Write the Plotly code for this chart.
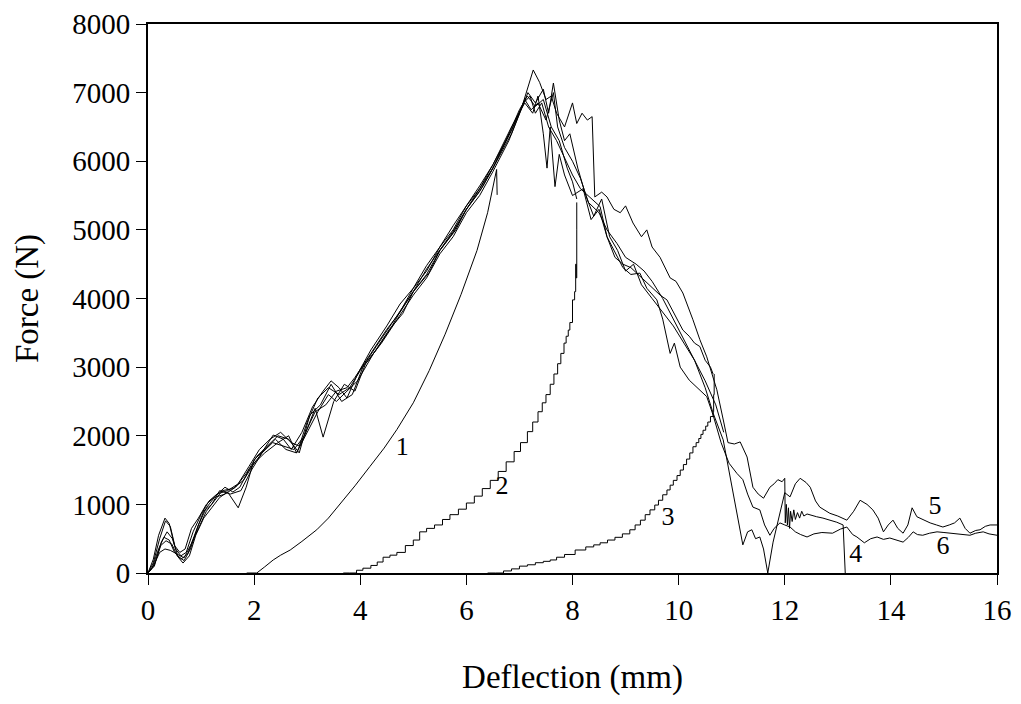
import plotly.graph_objects as go

# ---- main load-deflection curves (x in mm, F in N) ----
xa = [0, 0.1, 0.22, 0.33, 0.42, 0.52, 0.62, 0.72, 0.85, 1.0, 1.15, 1.3, 1.5, 1.7, 1.9, 2.1, 2.3, 2.5, 2.7, 2.85, 3.0, 3.2, 3.4, 3.6, 3.8, 4.0, 4.3, 4.6, 5.0, 5.3, 5.5, 5.8, 6.0, 6.3, 6.5, 6.8, 7.0,
      7.15, 7.3, 7.45, 7.6, 7.75, 7.9, 8.0, 8.08]
ya = [0, 150, 500, 760, 680, 350, 250, 300, 600, 850, 1050, 1150, 1200, 1300, 1550, 1800, 1950, 2050, 1900, 1850, 2200, 2550, 2700, 2600, 2700, 2950, 3300, 3650, 4100, 4380, 4700, 5000, 5300, 5620, 5900, 6400, 6750,
      6950, 6800, 6900, 6500, 6300, 5900, 5700, 5450]

xb = [0, 0.12, 0.25, 0.36, 0.46, 0.56, 0.68, 0.8, 0.95, 1.1, 1.25, 1.45, 1.65, 1.85, 2.05, 2.25, 2.45, 2.65, 2.85, 3.05, 3.25, 3.45, 3.65, 3.85, 4.05, 4.3, 4.6, 5.0, 5.25, 5.5, 5.75, 6.0, 6.25, 6.5, 6.85, 7.1,
      7.25, 7.35, 7.45, 7.52, 7.58, 7.67, 7.75, 7.85, 8.0, 8.2, 8.35, 8.5, 8.65, 8.8, 8.95, 9.1, 9.3, 9.5, 9.65, 9.78, 9.9, 10.08, 10.2, 10.3, 10.4, 10.5, 10.6, 10.65]
yb = [0, 100, 450, 600, 500, 250, 180, 350, 700, 950, 1100, 1150, 1250, 1450, 1700, 1850, 2000, 1950, 1750, 2300, 2450, 2750, 2500, 2600, 3000, 3250, 3600, 4150, 4400, 4750, 5000, 5350, 5600, 5950, 6500, 6850,
      6700, 6950, 6400, 5900, 6500, 5630, 6100, 5800, 5500, 5600, 5150, 5300, 4900, 4600, 4500, 4450, 4300, 4150, 4050, 3980, 3800, 3540, 3450, 3350, 3300, 3100, 3000, 2900]

xc = [0, 0.08, 0.2, 0.3, 0.4, 0.5, 0.62, 0.75, 0.9, 1.05, 1.2, 1.35, 1.55, 1.75, 1.95, 2.15, 2.35, 2.55, 2.75, 2.95, 3.15, 3.3, 3.5, 3.7, 3.9, 4.1, 4.4, 4.7, 5.0, 5.25, 5.5, 5.75, 6.0, 6.25, 6.5, 6.8, 7.0,
      7.16, 7.3, 7.45, 7.55, 7.64, 7.75, 7.85, 7.95, 8.1, 8.25, 8.4, 8.55, 8.7, 8.85, 9.0, 9.15, 9.3, 9.5, 9.7, 9.9, 10.1, 10.3, 10.5, 10.7, 10.85]
yc = [0, 80, 350, 520, 480, 300, 200, 280, 600, 900, 1000, 1200, 1150, 1200, 1500, 1750, 1900, 1850, 1800, 2000, 2400, 1980, 2500, 2750, 2650, 3050, 3350, 3700, 4050, 4300, 4650, 4900, 5250, 5500, 5850, 6300, 6700,
      7000, 6850, 7050, 6700, 7140, 6600, 6300, 6400, 5900, 5500, 5200, 5450, 4900, 4700, 4400, 4500, 4200, 4000, 3800, 3600, 3350, 3100, 2800, 2450, 2050]

x4 = [0, 0.1, 0.2, 0.32, 0.4, 0.5, 0.6, 0.7, 0.82, 0.95, 1.1, 1.25, 1.45, 1.6, 1.73, 1.9, 2.1, 2.36, 2.55, 2.7, 2.9, 3.1, 3.3, 3.45, 3.6, 3.75, 3.95, 4.2, 4.5, 4.75, 5.0, 5.25, 5.5, 5.75, 6.0, 6.25, 6.5, 6.85, 7.05,
      7.18, 7.26, 7.38, 7.5, 7.6, 7.7, 7.85, 8.0, 8.08, 8.18, 8.28, 8.37, 8.42, 8.55, 8.65, 8.78, 8.9, 9.0, 9.14, 9.3, 9.4, 9.5, 9.65, 9.84, 9.95, 10.08, 10.27, 10.4, 10.53, 10.72,
      10.85, 10.93, 11.05, 11.16, 11.29, 11.4, 11.5, 11.6, 11.72, 11.8, 11.87, 11.95, 12.0, 12.01, 12.03, 12.05, 12.07, 12.09, 12.11, 12.14, 12.17, 12.2, 12.24, 12.28, 12.32, 12.36,
      12.42, 12.5, 12.6, 12.72, 12.85, 12.98, 13.1, 13.12, 13.14]
y4 = [0, 200, 550, 800, 720, 400, 300, 350, 650, 800, 1000, 1110, 1250, 1180, 1250, 1500, 1700, 2010, 1950, 1800, 2050, 2420, 2650, 2800, 2700, 2550, 2900, 3250, 3600, 3920, 4150, 4480, 4750, 5060, 5350, 5640, 5950, 6450, 6800,
      7150, 7330, 7150, 6900, 6950, 6700, 6500, 6850, 6550, 6700, 6600, 6650, 5480, 5550, 5480, 5300, 5250, 5350, 5100, 4900, 5000, 4750, 4600, 4300, 4250, 4080, 3690, 3400, 3150, 2670,
      2200, 1900, 1880, 1910, 1690, 1250, 1150, 1090, 1250, 1300, 1360, 1330, 1380, 730, 1000, 700, 950, 650, 900, 750, 920, 780, 880, 800, 900, 830,
      860, 840, 820, 800, 770, 740, 700, 300, 0]

x5 = [0, 0.12, 0.24, 0.34, 0.45, 0.55, 0.66, 0.78, 0.9, 1.05, 1.2, 1.35, 1.5, 1.7, 1.85, 2.0, 2.2, 2.4, 2.6, 2.8, 3.0, 3.15, 3.35, 3.55, 3.75, 3.9, 4.2, 4.5, 4.75, 5.0, 5.25, 5.5, 5.75, 6.0, 6.25, 6.5, 6.85, 7.1,
      7.22, 7.35, 7.5, 7.64, 7.72, 7.85, 8.0, 8.15, 8.3, 8.5, 8.65, 8.84, 9.0, 9.2, 9.35, 9.5, 9.7, 9.9, 10.1, 10.3, 10.5, 10.65, 10.84, 11.03, 11.21, 11.3, 11.38, 11.45, 11.53, 11.6, 11.68,
      11.78, 11.85, 11.95, 12.0, 12.1, 12.2, 12.29, 12.4, 12.48, 12.58, 12.66, 12.85, 13.0, 13.17, 13.3, 13.42, 13.55, 13.66, 13.76, 13.86, 13.95, 14.04, 14.13, 14.23, 14.32, 14.4,
      14.49, 14.6, 14.74, 14.86, 14.98, 15.1, 15.2, 15.3, 15.4, 15.49, 15.6, 15.68, 15.78, 15.87, 16.0]
y5 = [0, 120, 400, 470, 420, 250, 145, 250, 550, 800, 950, 1100, 1180, 950, 1250, 1650, 1800, 1950, 1800, 1750, 2100, 2350, 2450, 2650, 2700, 2850, 3200, 3550, 3800, 4100, 4430, 4700, 4980, 5300, 5600, 5900, 6450, 6900,
      6750, 6850, 6600, 7000, 6500, 6200, 6000, 5750, 5400, 5250, 5000, 4800, 4600, 4500, 4400, 4250, 4000, 3700, 3400, 3100, 2700, 2330, 1940, 1170, 410, 600, 630, 500, 525, 350, 0,
      450, 670, 1000, 1170, 1110, 1300, 1380, 1320, 1250, 1050, 960, 870, 830, 770, 900, 1060, 1000, 920, 800, 600, 700, 770, 650, 580, 700, 950,
      820, 780, 730, 700, 670, 700, 730, 800, 650, 580, 620, 630, 680, 700, 700]

x6 = [0, 0.1, 0.22, 0.32, 0.42, 0.55, 0.68, 0.8, 0.95, 1.1, 1.25, 1.4, 1.6, 1.8, 2.0, 2.2, 2.45, 2.65, 2.8, 3.0, 3.2, 3.4, 3.55, 3.75, 3.95, 4.25, 4.55, 4.8, 5.0, 5.25, 5.5, 5.75, 6.0, 6.25, 6.5, 6.85, 7.08,
      7.2, 7.3, 7.42, 7.55, 7.7, 7.85, 8.0, 8.15, 8.3, 8.52, 8.65, 8.84, 8.95, 9.1, 9.27, 9.4, 9.59, 9.7, 9.84, 9.92, 10.03, 10.2, 10.35, 10.53, 10.65, 10.8, 10.95, 11.1, 11.21, 11.3,
      11.4, 11.53, 11.62, 11.72, 11.8, 11.91, 12.0, 12.1, 12.2, 12.3, 12.42, 12.55, 12.7, 12.9, 13.05, 13.17, 13.28, 13.36, 13.5, 13.62, 13.74, 13.86, 13.98, 14.1, 14.23, 14.33, 14.42,
      14.5, 14.6, 14.73, 14.87, 15.0, 15.11, 15.3, 15.49, 15.6, 15.74, 15.85, 16.0]
y6 = [0, 100, 300, 350, 330, 270, 220, 400, 650, 900, 1050, 1200, 1230, 1350, 1600, 1750, 1900, 2000, 1750, 2050, 2350, 2600, 2500, 2650, 2800, 3200, 3550, 3780, 4100, 4350, 4700, 4960, 5300, 5560, 5900, 6400, 6850,
      6950, 6700, 6850, 6500, 6300, 6050, 5800, 5600, 5500, 5340, 4900, 4600, 4450, 4350, 4370, 4150, 3980, 3700, 3200, 3350, 3000, 2810, 2700, 2570, 2300, 1900, 1600, 1450, 1360, 1150,
      960, 920, 700, 550, 650, 730, 700, 670, 600, 560, 525, 570, 590, 580, 640, 670, 560, 525, 440, 500, 525, 490, 510, 480, 450, 520, 600,
      560, 550, 580, 600, 590, 580, 560, 550, 580, 600, 570, 550]

# ---- reloading curves 1, 2, 3 ----
x1 = [1.86, 2.05, 2.2, 2.36, 2.5, 2.68, 2.9, 3.18, 3.4, 3.68, 3.9, 4.18, 4.45, 4.69, 5.0, 5.3, 5.6, 5.9, 6.2, 6.4, 6.5, 6.57, 6.58]
y1 = [0, 0, 90, 190, 260, 335, 460, 630, 800, 1060, 1270, 1550, 1820, 2090, 2480, 2950, 3480, 4060, 4700, 5250, 5600, 5880, 5510]

x2 = [3.68, 3.8, 3.93, 4.05, 4.2, 4.32, 4.43, 4.56, 4.69, 4.85, 5.0, 5.12, 5.25, 5.4, 5.55, 5.69, 5.85, 6.0, 6.15, 6.3, 6.45, 6.6, 6.75, 6.9, 7.02, 7.15, 7.25, 7.35, 7.43, 7.5, 7.58,
      7.65, 7.72, 7.78, 7.84, 7.88, 7.92, 7.95, 8.0, 8.04, 8.06, 8.07, 8.08, 8.08]
y2 = [0, 0, 40, 70, 110, 160, 230, 260, 300, 400, 480, 600, 650, 700, 780, 850, 930, 1020, 1120, 1230, 1350, 1480, 1620, 1770, 1900, 2060, 2200, 2350, 2480, 2600, 2750,
      2900, 3050, 3200, 3350, 3450, 3540, 3650, 3980, 4100, 4500, 4300, 5000, 5400]

x3 = [6.4, 6.55, 6.7, 6.85, 7.0, 7.15, 7.3, 7.45, 7.58, 7.7, 7.85, 8.05, 8.25, 8.4, 8.52, 8.66, 8.8, 8.94, 9.08, 9.18, 9.28, 9.37, 9.46, 9.55, 9.62, 9.7, 9.78, 9.84, 9.9, 9.97,
      10.03, 10.09, 10.15, 10.21, 10.27, 10.33, 10.38, 10.42, 10.46, 10.51, 10.55, 10.6, 10.65, 10.66, 10.67]
y3 = [0, 0, 30, 60, 100, 120, 150, 170, 190, 230, 270, 335, 380, 410, 440, 480, 520, 570, 630, 700, 770, 850, 920, 990, 1060, 1140, 1210, 1280, 1350, 1420,
      1500, 1580, 1660, 1750, 1840, 1900, 1960, 2020, 2080, 2140, 2200, 2280, 2350, 2600, 2900]

# ---- curve labels ----
label_text = ["1", "2", "3", "4", "5", "6"]
label_x = [4.79, 6.67, 9.8, 13.34, 14.83, 14.98]
label_y = [1810, 1240, 790, 250, 950, 370]

fig = go.Figure()
for xs, ys in [(xa, ya), (xb, yb), (xc, yc), (x4, y4), (x5, y5), (x6, y6), (x1, y1)]:
    fig.add_trace(go.Scatter(x=xs, y=ys, mode="lines", line=dict(color="black", width=1), showlegend=False, hoverinfo="skip"))
for xs, ys in [(x2, y2), (x3, y3)]:
    fig.add_trace(go.Scatter(x=xs, y=ys, mode="lines", line=dict(color="black", width=1, shape="hv"), showlegend=False, hoverinfo="skip"))

fig.add_trace(go.Scatter(x=label_x, y=label_y, mode="text", text=label_text,
                         textfont=dict(family="Liberation Serif", size=26, color="black"),
                         showlegend=False, hoverinfo="skip"))

font_family = "Liberation Serif"
fig.update_layout(
    width=1005, height=688,
    margin=dict(l=140, r=16, t=16, b=123, autoexpand=False),
    paper_bgcolor="white", plot_bgcolor="white",
    font=dict(family=font_family, size=28, color="black"),
    xaxis=dict(range=[0, 16], dtick=2, tick0=0, showgrid=False, zeroline=False, automargin=False,
               showline=True, linecolor="black", linewidth=2, mirror=True,
               ticks="outside", ticklen=10, tickwidth=1, tickcolor="black",
               tickfont=dict(family=font_family, size=29),
               title=dict(text="Deflection (mm)", font=dict(family=font_family, size=33), standoff=42)),
    yaxis=dict(range=[0, 8000], dtick=1000, tick0=0, showgrid=False, zeroline=False, automargin=False,
               showline=True, linecolor="black", linewidth=2, mirror=True,
               ticks="outside", ticklen=10, tickwidth=1, tickcolor="black",
               tickfont=dict(family=font_family, size=29),
               title=dict(text="Force (N)", font=dict(family=font_family, size=33), standoff=24)),
)

fig.write_html("out.html")
